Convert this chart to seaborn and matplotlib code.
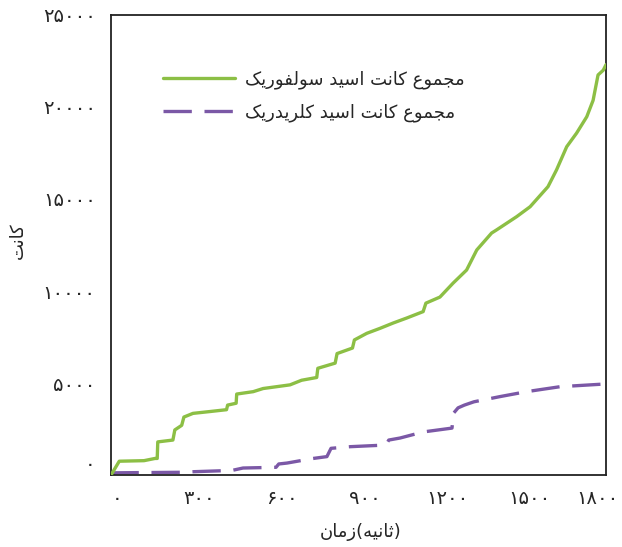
import numpy as np
import pandas as pd
import seaborn as sns
import matplotlib
matplotlib.use('Agg')
import matplotlib.pyplot as plt
import matplotlib.transforms as mtransforms

# داده‌ها (خوانده شده از تصویر)
t_sulfuric = [0, 30, 120, 160, 168, 170, 225, 232, 257, 265, 298, 360, 420, 424, 455, 457,
              517, 553, 651, 693, 748, 752, 815, 822, 878, 885, 930, 978, 1026, 1075, 1135,
              1145, 1196, 1244, 1293, 1330, 1384, 1402, 1475, 1524, 1589, 1620, 1657, 1693,
              1730, 1753, 1771, 1790, 1800]
v_sulfuric = [0, 750, 780, 900, 900, 1800, 1900, 2450, 2700, 3150, 3350, 3450, 3550, 3800, 3900, 4400,
              4530, 4700, 4900, 5150, 5300, 5800, 6080, 6600, 6900, 7340, 7700, 7970, 8260, 8530, 8880,
              9340, 9670, 10430, 11140, 12230, 13150, 13320, 14040, 14580, 15670, 16580, 17840, 18580,
              19470, 20360, 21740, 22000, 22300]

t_chloric = [0, 15, 270, 300, 440, 480, 600, 610, 640, 735, 785, 800, 870, 1000, 1010, 1051,
             1135, 1240, 1245, 1262, 1285, 1320, 1414, 1511, 1633, 1800]
v_chloric = [0, 120, 150, 180, 250, 380, 420, 600, 650, 900, 1000, 1450, 1540, 1630, 1900, 2010,
             2340, 2550, 3350, 3650, 3800, 3980, 4260, 4530, 4800, 4950]

x_ticks = [0, 300, 600, 900, 1200, 1500, 1800]
y_ticks = [0, 5000, 10000, 15000, 20000, 25000]

label_sulfuric = 'مجموع کانت اسید سولفوریک'
label_chloric = 'مجموع کانت اسید کلریدریک'
label_x_word = 'زمان'
label_x_unit = 'ثانیه'
label_y = 'کانت'

# شکل‌دهی حروف فارسی (matplotlib اتصال و راست‌به‌چپ ندارد)
FORMS = {
    'ا': ('\uFE8D', '\uFE8E'),
    'د': ('\uFEA9', '\uFEAA'),
    'ر': ('\uFEAD', '\uFEAE'),
    'ز': ('\uFEAF', '\uFEB0'),
    'و': ('\uFEED', '\uFEEE'),
    'ت': ('\uFE95', '\uFE96', '\uFE97', '\uFE98'),
    'ث': ('\uFE99', '\uFE9A', '\uFE9B', '\uFE9C'),
    'ج': ('\uFE9D', '\uFE9E', '\uFE9F', '\uFEA0'),
    'س': ('\uFEB1', '\uFEB2', '\uFEB3', '\uFEB4'),
    'ع': ('\uFEC9', '\uFECA', '\uFECB', '\uFECC'),
    'ف': ('\uFED1', '\uFED2', '\uFED3', '\uFED4'),
    'ل': ('\uFEDD', '\uFEDE', '\uFEDF', '\uFEE0'),
    'م': ('\uFEE1', '\uFEE2', '\uFEE3', '\uFEE4'),
    'ن': ('\uFEE5', '\uFEE6', '\uFEE7', '\uFEE8'),
    'ه': ('\uFEE9', '\uFEEA', '\uFEEB', '\uFEEC'),
    'ک': ('\uFB8E', '\uFB8F', '\uFB90', '\uFB91'),
    'ی': ('\uFBFC', '\uFBFD', '\uFBFE', '\uFBFF'),
}


def fa(text):
    out = []
    for i, ch in enumerate(text):
        if ch not in FORMS:
            out.append(ch)
            continue
        prev = text[i - 1] if i > 0 else ''
        nxt = text[i + 1] if i + 1 < len(text) else ''
        join_prev = prev in FORMS and len(FORMS[prev]) == 4
        join_next = len(FORMS[ch]) == 4 and nxt in FORMS
        f = FORMS[ch]
        if join_prev and join_next:
            out.append(f[3])
        elif join_next:
            out.append(f[2])
        elif join_prev:
            out.append(f[1])
        else:
            out.append(f[0])
    return ''.join(out)[::-1]


def fa_digits(n):
    return str(n).translate(str.maketrans('0123456789', '۰۱۲۳۴۵۶۷۸۹'))


sns.set_style('white')
plt.rcParams['font.family'] = ['DejaVu Sans']

green = '#8cbf45'
purple = '#7b58a6'

fig = plt.figure(figsize=(6.22, 5.47), dpi=100)
ax = fig.add_axes([0.1785, 0.1316, 0.7958, 0.841])

df_s = pd.DataFrame({'t': t_sulfuric, 'v': v_sulfuric})
df_c = pd.DataFrame({'t': t_chloric, 'v': v_chloric})

sns.lineplot(data=df_s, x='t', y='v', estimator=None, sort=False, color=green,
             linewidth=2.4, label=fa(label_sulfuric), ax=ax, zorder=3)
sns.lineplot(data=df_c, x='t', y='v', estimator=None, sort=False, color=purple,
             linewidth=2.4, linestyle=(0, (8.5, 3.8)), label=fa(label_chloric), ax=ax, zorder=2)

ax.set_xlim(0, 1800)
ax.set_ylim(0, 25000)
ax.set_xticks(x_ticks)
ax.set_xticklabels([fa_digits(x) for x in x_ticks])
ax.set_xticks(np.arange(0, 1800, 60), minor=True)
ax.set_yticks(y_ticks)
ax.set_yticklabels([fa_digits(y) for y in y_ticks])
ax.set_yticks(np.arange(0, 25001, 1000), minor=True)

ax.tick_params(axis='x', which='major', direction='in', length=7, width=1.1, pad=10, labelsize=14)
ax.tick_params(axis='x', which='minor', direction='in', length=5, width=1.1)
ax.tick_params(axis='y', which='both', direction='in', length=6.5, width=1.1, pad=11, labelsize=14)

# برچسب صفر محور y کمی بالاتر است
offset = mtransforms.ScaledTranslation(0, 13 / 100, fig.dpi_scale_trans)
for lbl in ax.get_yticklabels():
    if lbl.get_text() == '۰':
        lbl.set_transform(lbl.get_transform() + offset)

# برچسب‌های محور x کمی به راست، آخرین به چپ
xlbls = ax.get_xticklabels()
for i, lbl in enumerate(xlbls):
    dx = 6 if i < len(xlbls) - 1 else -9
    lbl.set_transform(lbl.get_transform() +
                      mtransforms.ScaledTranslation(dx / 100, 0, fig.dpi_scale_trans))

for s in ax.spines.values():
    s.set_linewidth(1.3)
    s.set_color('#222222')

ax.set_xlabel(fa(label_x_word) + '(' + fa(label_x_unit) + ')', fontsize=13)
ax.xaxis.set_label_coords(0.505, -0.105)
ax.set_ylabel(fa(label_y), fontsize=13)
ax.yaxis.set_label_coords(-0.17, 0.51)

ax.legend(loc='upper left', bbox_to_anchor=(0.105, 0.88), frameon=False, fontsize=13,
          handlelength=4.0, handletextpad=0.55, labelspacing=0.8, borderaxespad=0, borderpad=0)

fig.savefig('out.png', dpi=100)
